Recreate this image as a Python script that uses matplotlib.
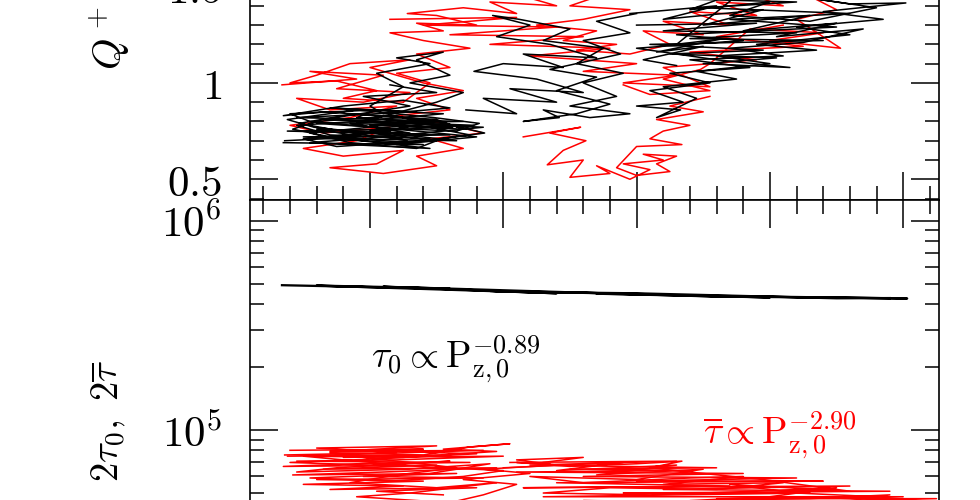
import math
import matplotlib
matplotlib.use('Agg')
import matplotlib.pyplot as plt
from matplotlib.ticker import MultipleLocator, FixedLocator, FixedFormatter, LogLocator, NullFormatter

plt.rcParams['mathtext.fontset'] = 'cm'
plt.rcParams['font.family'] = ['DejaVu Serif']

# ---------------- data ----------------
q_ticks = [0.5, 1.0, 1.5]
q_ticklabels = ['$0.5$', '$1$', '$1.5$']
tau_ticks = [1e5, 1e6]
tau_ticklabels = ['$10^5$', '$10^6$']

# top panel: Q+ trajectories (x, Q)
black_left = [(0.36,0.70),(0.95,0.72),(0.60,0.76),(1.30,0.74),(0.85,0.79),(1.62,0.77),(1.10,0.81),(0.45,0.78),
              (0.70,0.73),(1.45,0.71),(1.20,0.68),(1.80,0.72),(1.35,0.75),(0.55,0.80),(0.40,0.84),(1.05,0.86),
              (0.90,0.82),(1.55,0.79),(1.86,0.74),(1.40,0.70),(0.75,0.67),(0.50,0.71),(1.15,0.75),(1.00,0.78),
              (1.70,0.76),(1.50,0.81),(0.65,0.85),(0.35,0.83),(0.80,0.88),(1.25,0.91),(1.60,0.87),(1.10,0.84),
              (1.00,0.88),(1.25,0.98),(1.05,1.05),(1.45,1.10),(1.20,1.13),(1.55,1.16),(1.35,1.12),(1.60,1.04),
              (1.30,1.00),(1.70,0.95),(1.50,0.90),(0.95,0.80),(1.45,0.77),(1.75,0.73),(1.30,0.69),(0.70,0.72),
              (0.42,0.76),(0.60,0.80),(1.20,0.83),(1.40,0.79),(1.05,0.74),(1.50,0.70),(1.35,0.66),(0.85,0.69),
              (0.55,0.74),(1.00,0.77),(1.65,0.75),(1.82,0.79),(1.48,0.82),(0.90,0.86),(0.38,0.81),(0.58,0.77),
              (1.12,0.73),(1.28,0.70),(0.78,0.75),(0.47,0.79),(0.88,0.84),(1.52,0.80),(1.72,0.76)]
black_left2 = [(0.35,0.69),(1.40,0.68),(0.50,0.72),(1.60,0.73),(0.38,0.75),(1.25,0.76),(0.60,0.79),(1.70,0.80),
               (0.45,0.82),(1.35,0.85),(0.70,0.87),(1.55,0.84),(0.90,0.80),(1.85,0.77),(1.10,0.72),(0.55,0.69),
               (1.45,0.66),(0.80,0.71),(1.65,0.70),(1.00,0.75),(1.78,0.78),(0.65,0.81),(1.30,0.88),(0.95,0.93),
               (1.50,0.95),(1.15,0.99)]
black_mid = [(1.72,0.86),(2.10,0.84),(1.85,0.92),(2.40,0.90),(2.05,0.97),(2.60,0.95),(2.25,1.02),(1.78,1.06),
             (2.00,1.10),(2.45,1.08),(2.15,1.15),(2.70,1.13),(2.35,1.20),(1.95,1.24),(2.20,1.30),(1.92,1.35),
             (2.12,1.33),(2.50,1.28),(2.30,1.22),(2.75,1.18),(2.55,1.10),(2.90,1.05),(2.60,1.00),(2.85,0.93),
             (2.50,0.88),(2.95,0.84),(2.65,0.82),(2.30,0.86),(2.42,0.82),(2.15,0.80),(2.55,0.84),(2.80,0.89),
             (2.40,0.96),(2.70,1.03),(2.35,1.07),(2.88,1.15),(2.60,1.22),(2.95,1.26),(2.70,1.32),(3.00,1.36)]
black_right = [(2.95,1.36),(3.60,1.40),(3.20,1.33),(3.95,1.38),(3.50,1.30),(4.30,1.35),(3.80,1.27),(4.50,1.31),
               (4.05,1.24),(4.70,1.28),(4.25,1.21),(3.70,1.18),(4.10,1.14),(3.40,1.12),(3.85,1.08),(3.25,1.05),
               (3.55,1.00),(3.10,0.96),(3.35,0.90),(3.00,0.88),(3.33,0.86),(3.15,0.82),(3.45,0.92),(3.20,0.98),
               (3.75,1.02),(3.45,1.06),(4.00,1.10),(3.60,1.14),(4.35,1.17),(3.90,1.20),(4.60,1.25),(4.20,1.29),
               (4.85,1.33),(4.40,1.37),(5.02,1.415),(4.60,1.41),(4.10,1.46),(4.80,1.39),(4.30,1.32),(3.70,1.35),
               (4.00,1.42),(3.40,1.38),(3.80,1.48),(3.30,1.20),(3.65,1.23),(3.15,1.16),(3.50,1.19),(3.05,1.12),
               (3.30,1.09)]
black_right2 = [(3.00,1.30),(3.90,1.31),(3.20,1.27),(4.20,1.26),(3.40,1.23),(4.40,1.22),(3.10,1.20),(3.95,1.17),
                (3.25,1.15),(4.05,1.13),(3.50,1.10),(4.15,1.08),(3.60,1.12),(3.00,1.18),(3.80,1.22),(3.30,1.25),
                (4.50,1.29),(3.70,1.33),(4.60,1.36),(3.50,1.39),(4.20,1.42),(3.10,1.44),(3.90,1.46),(4.70,1.44)]
red_left = [(0.34,0.99),(0.90,1.02),(0.55,1.06),(1.10,1.04),(0.75,0.97),(1.30,0.95),(0.95,0.90),(0.45,0.92),
            (0.70,0.86),(1.20,0.88),(0.85,0.82),(0.40,0.78),(0.65,0.74),(1.15,0.77),(0.90,0.70),(0.50,0.66),
            (0.80,0.62),(1.25,0.65),(1.05,0.58),(0.70,0.56),(1.10,0.53),(1.50,0.57),(1.35,0.62),(1.70,0.66),
            (1.45,0.71),(1.85,0.74),(1.55,0.79),(1.20,0.83),(1.60,0.86),(1.35,0.92),(1.70,0.96),(1.40,1.00),
            (1.00,1.08),(1.30,1.12),(0.85,1.10),(0.60,1.04),(0.40,1.00),(0.75,1.01),(1.05,0.96),(0.80,0.92),
            (1.25,0.90)]
red_up = [(1.25,0.90),(1.45,1.00),(1.20,1.05),(1.60,1.08),(1.35,1.15),(1.75,1.18),(1.40,1.22),(1.15,1.26),
          (1.55,1.27),(1.35,1.31),(1.80,1.30),(1.50,1.35),(1.28,1.36),(1.70,1.39),(2.10,1.36),(1.90,1.42),
          (2.40,1.40),(2.10,1.46),(2.60,1.44),(2.30,1.50),(2.80,1.47),(2.50,1.40),(2.95,1.38),(2.60,1.33),
          (2.25,1.30),(2.70,1.27),(2.45,1.22),(2.85,1.20),(2.55,1.17),(2.95,1.15),(3.25,1.20),(3.05,1.27),
          (3.50,1.25),(3.20,1.32),(3.70,1.30),(3.40,1.37),(3.90,1.35),(3.60,1.42),(4.10,1.40),(3.80,1.47),
          (4.30,1.45),(4.50,1.38),(4.20,1.33),(4.53,1.18),(4.00,1.22),(4.40,1.26),(3.85,1.28),(3.55,1.10),
          (3.48,1.07),(3.20,1.02),(3.55,0.96),(3.10,0.94),(2.90,0.99)]
red_top2 = [(1.15,1.33),(2.10,1.34),(1.40,1.30),(2.40,1.29),(1.60,1.25),(2.60,1.24),(1.90,1.20),(2.80,1.18),
            (2.20,1.14),(3.00,1.10),(2.60,1.06),(3.30,1.04),(2.90,1.00),(3.55,0.98),(3.20,1.08),(3.90,1.12),
            (3.40,1.16),(4.25,1.19),(3.60,1.24),(4.10,1.30)]
red_low = [(2.15,0.72),(2.58,0.77),(2.35,0.74),(2.62,0.70),(2.45,0.65),(2.33,0.575),(2.60,0.60),(2.50,0.51),
           (2.80,0.53),(2.70,0.57),(2.95,0.50),(3.10,0.55),(2.90,0.58),(3.20,0.60),(3.05,0.63),(3.30,0.62),
           (3.15,0.58),(3.25,0.54),(3.00,0.52),(2.85,0.56),(3.00,0.67),(3.34,0.68),(3.10,0.71),(3.20,0.75),
           (3.40,0.78),(3.15,0.81),(3.50,0.85),(3.25,0.88),(3.55,0.93)]

# bottom panel: 2 tau_0 (black) and 2 tau_bar (red)
tau0_band = [(0.34,4.92e5),(1.60,4.73e5),(1.10,4.84e5),(2.40,4.50e5),(1.90,4.62e5),(3.20,4.44e5),(2.70,4.48e5),
             (4.00,4.30e5),(3.50,4.38e5),(5.03,4.25e5),(4.60,4.29e5),(3.60,4.34e5),(2.50,4.55e5),(1.40,4.78e5),
             (0.60,4.90e5),(2.10,4.57e5),(3.00,4.50e5),(4.50,4.26e5),(4.90,4.27e5)]
taubar_left = [(0.36,7.6e4),(1.20,7.8e4),(0.60,8.2e4),(1.50,8.4e4),(0.90,8.0e4),(1.80,7.7e4),(1.10,7.3e4),
               (0.40,7.0e4),(1.00,6.8e4),(1.60,7.1e4),(0.75,6.6e4),(0.45,6.3e4),(1.30,6.5e4),(1.90,6.9e4),
               (1.45,6.2e4),(0.55,5.9e4),(1.15,5.7e4),(1.70,6.0e4),(2.00,6.4e4),(1.35,6.7e4),(0.80,7.2e4),
               (0.50,7.5e4),(1.25,7.4e4),(1.95,7.9e4),(1.55,8.1e4),(2.05,8.6e4),(1.75,8.3e4),(1.40,7.6e4),
               (0.70,7.8e4),(0.95,7.4e4),(1.65,6.6e4),(1.20,6.1e4),(0.85,5.6e4),(1.50,5.3e4),(1.95,5.6e4),
               (1.30,5.0e4),(0.90,4.8e4),(1.60,4.5e4),(1.85,4.9e4),(2.10,5.5e4),(1.70,5.8e4),(2.20,6.2e4),
               (1.85,6.5e4),(2.40,6.8e4),(2.10,7.2e4),(2.60,7.4e4),(2.30,7.0e4)]
taubar_left2 = [(0.40,8.0e4),(1.40,8.1e4),(0.70,7.9e4),(1.85,8.0e4),(1.00,7.7e4),(0.38,7.5e4),(1.60,7.6e4),
                (0.80,7.4e4),(2.00,7.5e4),(1.20,7.2e4),(0.45,7.1e4),(1.75,7.0e4),(0.90,6.9e4),(0.35,6.7e4),
                (1.50,6.8e4),(0.65,6.5e4),(1.95,6.6e4),(1.10,6.3e4),(0.42,6.1e4),(1.65,6.2e4),(0.95,6.0e4),
                (1.85,5.9e4),(0.60,5.8e4),(1.40,5.7e4),(0.50,5.5e4),(1.25,5.4e4),(0.70,5.2e4),(1.80,5.3e4),
                (1.05,5.1e4),(1.55,4.9e4)]
taubar_right = [(2.00,6.6e4),(2.90,7.0e4),(2.40,6.4e4),(3.30,6.8e4),(2.70,6.1e4),(3.50,6.5e4),(3.00,5.8e4),
                (2.20,6.0e4),(2.60,5.6e4),(3.40,5.9e4),(3.80,6.0e4),(3.20,5.5e4),(4.10,5.6e4),(3.60,5.2e4),
                (2.80,5.3e4),(2.30,5.0e4),(3.10,4.9e4),(3.90,5.1e4),(4.50,5.3e4),(4.00,4.8e4),(3.40,4.6e4),
                (4.30,4.7e4),(4.90,4.9e4),(4.40,4.4e4),(5.10,4.6e4),(4.70,4.3e4),(5.30,4.5e4),(4.80,4.8e4),
                (4.20,5.0e4),(3.70,5.5e4),(4.60,5.1e4),(3.95,5.8e4),(3.50,6.2e4),(3.10,6.6e4),(3.34,7.1e4),
                (3.00,6.9e4),(2.50,6.7e4),(2.10,7.0e4),(2.35,6.9e4)]
taubar_right2 = [(2.05,7.0e4),(3.30,7.1e4),(2.20,6.8e4),(3.60,6.6e4),(2.50,6.5e4),(3.40,6.4e4),(2.10,6.3e4),
                 (3.80,6.2e4),(2.60,6.0e4),(4.20,5.9e4),(3.00,5.7e4),(4.40,5.7e4),(2.40,5.6e4),(3.70,5.4e4),
                 (2.15,5.3e4),(4.60,5.4e4),(3.20,5.2e4),(4.90,5.1e4),(2.90,5.0e4),(4.30,5.0e4),(2.30,4.8e4),
                 (5.00,4.8e4),(3.60,4.7e4),(5.25,4.7e4),(3.90,4.5e4),(2.60,4.6e4),(4.80,4.5e4)]

# ---------------- layout ----------------
W, H = 980, 500
fig = plt.figure(figsize=(W / 100, H / 100), dpi=100)

x_lo, x_hi = 0.1, 5.265
ax_left_px, ax_right_px = 250, 938.5
seam_px = 199.5
q_lo, q_hi, q_ppu = 0.395, 1.6, 192.7
t_lo, t_hi, t_ppd = 2e4, 1.263e6, 209.3
h1 = (q_hi - q_lo) * q_ppu
h2 = (math.log10(t_hi) - math.log10(t_lo)) * t_ppd

ax1 = fig.add_axes([ax_left_px / W, (H - seam_px) / H, (ax_right_px - ax_left_px) / W, h1 / H])
ax2 = fig.add_axes([ax_left_px / W, (H - seam_px - h2) / H, (ax_right_px - ax_left_px) / W, h2 / H])

lw = 1.1
for data, col in [(red_left, 'red'), (red_up, 'red'), (red_top2, 'red'), (red_low, 'red'),
                  (black_left, 'black'), (black_left2, 'black'), (black_mid, 'black'),
                  (black_right, 'black'), (black_right2, 'black')]:
    xs, ys = zip(*data)
    ax1.plot(xs, ys, color=col, lw=lw, solid_joinstyle='round')

for data, col in [(taubar_left, 'red'), (taubar_left2, 'red'), (taubar_right, 'red'),
                  (taubar_right2, 'red'), (tau0_band, 'black')]:
    xs, ys = zip(*data)
    ax2.plot(xs, ys, color=col, lw=lw * (1.5 if col == 'black' else 1.0), solid_joinstyle='round')

ax2.set_yscale('log')
ax1.set_ylim(q_lo, q_hi)
ax2.set_ylim(t_lo, t_hi)

for ax in (ax1, ax2):
    ax.set_xlim(x_lo, x_hi)
    ax.xaxis.set_major_locator(MultipleLocator(1))
    ax.xaxis.set_minor_locator(MultipleLocator(0.2))
    ax.tick_params(which='both', direction='in', top=True, right=True, width=1.1,
                   labelbottom=False, labelsize=31, pad=20)
    ax.tick_params(which='major', length=20)
    ax.tick_params(which='minor', length=10)
    for s in ax.spines.values():
        s.set_linewidth(1.2)

ax1.yaxis.set_major_locator(FixedLocator(q_ticks))
ax1.yaxis.set_major_formatter(FixedFormatter(q_ticklabels))
ax1.yaxis.set_minor_locator(MultipleLocator(0.1))

ax2.yaxis.set_major_locator(FixedLocator(tau_ticks))
ax2.yaxis.set_major_formatter(FixedFormatter(tau_ticklabels))
ax2.yaxis.set_minor_locator(LogLocator(base=10, subs=range(2, 10)))
ax2.yaxis.set_minor_formatter(NullFormatter())

# axis labels
fig.text(122 / W, 1 - 70 / H, r'$Q^+,\ Q^-$', rotation=90, rotation_mode='anchor',
         ha='left', va='baseline', fontsize=29)
fig.text(118 / W, 1 - 482 / H, r'$2\tau_0,\ 2\overline{\tau}$', rotation=90, rotation_mode='anchor',
         ha='left', va='baseline', fontsize=28)

# annotations
fig.text(371 / W, 1 - 368 / H, r'$\tau_0\propto\mathrm{P}_{\mathrm{z,0}}^{-0.89}$',
         ha='left', va='baseline', fontsize=27, color='black')
fig.text(703 / W, 1 - 444 / H, r'$\overline{\tau}\propto\mathrm{P}_{\mathrm{z,0}}^{-2.90}$',
         ha='left', va='baseline', fontsize=27, color='red')

fig.savefig('out.png', dpi=100)
